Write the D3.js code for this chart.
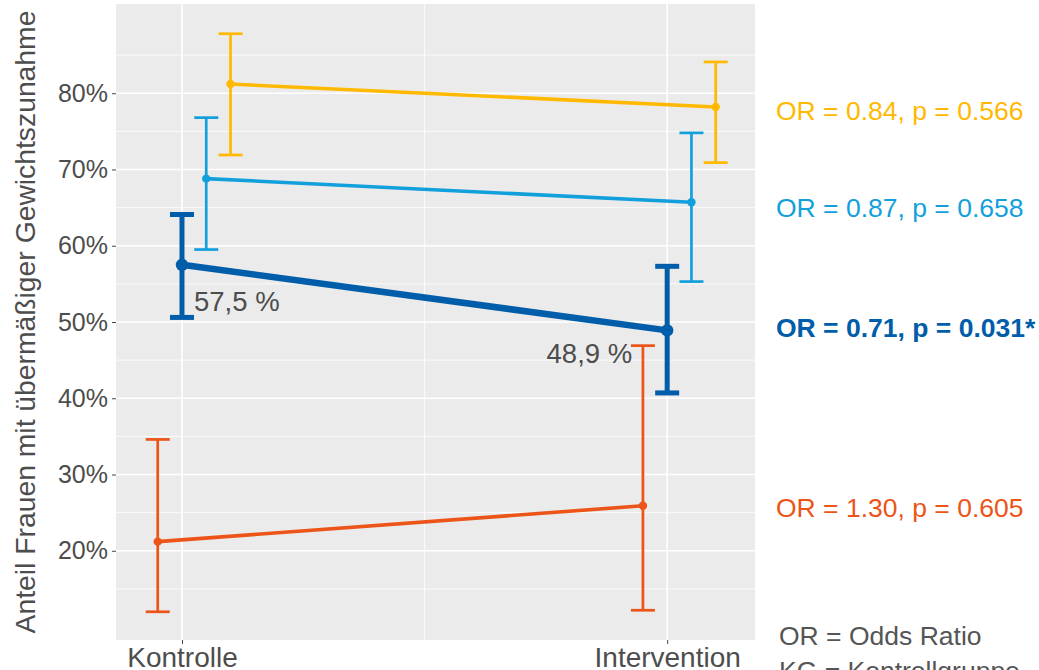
<!DOCTYPE html>
<html>
<head>
<meta charset="utf-8">
<script src="https://cdn.jsdelivr.net/npm/d3@7"></script>
<style>
  html, body { margin: 0; padding: 0; background: #fff; }
  svg { display: block; font-family: "Liberation Sans", Arial, sans-serif; }
</style>
</head>
<body>
<svg id="chart" width="1039" height="670"></svg>
<script>
// Groups on the x axis
const groups = ["Kontrolle", "Intervention"];

// Share of women with excessive weight gain (%) per subgroup, Kontrolle / Intervention
const seriesNames = ["orange", "dunkelblau", "hellblau", "gelb"];
const valuesOrange = [21.2, 25.9];
const valuesDarkBlue = [57.5, 48.9];
const valuesLightBlue = [68.8, 65.7];
const valuesYellow = [81.2, 78.2];

// 95% confidence limits (lower, upper)
const lowerOrange = [12.0, 12.2];
const upperOrange = [34.6, 46.9];
const lowerDarkBlue = [50.6, 40.7];
const upperDarkBlue = [64.1, 57.3];
const lowerLightBlue = [59.5, 55.3];
const upperLightBlue = [76.8, 74.8];
const lowerYellow = [71.9, 70.9];
const upperYellow = [87.8, 84.1];

// Odds-ratio annotations
const orLabels = [
  "OR = 1.30, p = 0.605",
  "OR = 0.71, p = 0.031*",
  "OR = 0.87, p = 0.658",
  "OR = 0.84, p = 0.566"
];

// Y axis ticks
const yTicks = [20, 30, 40, 50, 60, 70, 80];
const yTickLabels = ["20%", "30%", "40%", "50%", "60%", "70%", "80%"];

const yTitle = "Anteil Frauen mit übermäßiger Gewichtszunahme";
const footnotes = ["OR = Odds Ratio", "KG = Kontrollgruppe"];

// ---- series assembly ----
const series = [
  { name: seriesNames[0], values: valuesOrange, lower: lowerOrange, upper: upperOrange, label: orLabels[0] },
  { name: seriesNames[1], values: valuesDarkBlue, lower: lowerDarkBlue, upper: upperDarkBlue, label: orLabels[1] },
  { name: seriesNames[2], values: valuesLightBlue, lower: lowerLightBlue, upper: upperLightBlue, label: orLabels[2] },
  { name: seriesNames[3], values: valuesYellow, lower: lowerYellow, upper: upperYellow, label: orLabels[3] }
];

// ---- styling ----
const style = {
  orange:     { color: "#EC5418", line: 3.6, bar: 2.7, r: 4.2, bold: false, labelY: 517 },
  dunkelblau: { color: "#005DAA", line: 6.5, bar: 5,   r: 6.2, bold: true,  labelY: 337 },
  hellblau:   { color: "#12A0DC", line: 3.6, bar: 2.7, r: 4.2, bold: false, labelY: 217 },
  gelb:       { color: "#FFB900", line: 3.6, bar: 2.7, r: 4.2, bold: false, labelY: 120 }
};
const textGrey = "#4D4D4D";
const panel = { left: 116, right: 755, top: 4, bottom: 640 };
const dodgeStep = 0.05;   // horizontal dodge between subgroups (x units)
const capHalf = 12;       // half-width of the error bar caps (px)

const svg = d3.select("#chart");

const x = d3.scaleLinear().domain([0.864, 2.181]).range([panel.left, panel.right]);
const y = d3.scaleLinear().domain([8.3, 91.7]).range([panel.bottom, panel.top]);

// panel background
svg.append("rect")
  .attr("x", panel.left).attr("y", panel.top)
  .attr("width", panel.right - panel.left).attr("height", panel.bottom - panel.top)
  .attr("fill", "#EBEBEB");

// minor grid
const grid = svg.append("g");
const yMinor = d3.range(15, 90, 10);
grid.selectAll("line.ymin").data(yMinor).enter().append("line")
  .attr("x1", panel.left).attr("x2", panel.right)
  .attr("y1", d => y(d)).attr("y2", d => y(d))
  .attr("stroke", "#fff").attr("stroke-width", 0.8);
grid.selectAll("line.xmin").data([1.5]).enter().append("line")
  .attr("y1", panel.top).attr("y2", panel.bottom)
  .attr("x1", d => x(d)).attr("x2", d => x(d))
  .attr("stroke", "#fff").attr("stroke-width", 0.8);
// major grid
grid.selectAll("line.ymaj").data(yTicks).enter().append("line")
  .attr("x1", panel.left).attr("x2", panel.right)
  .attr("y1", d => y(d)).attr("y2", d => y(d))
  .attr("stroke", "#fff").attr("stroke-width", 1.6);
grid.selectAll("line.xmaj").data([1, 2]).enter().append("line")
  .attr("y1", panel.top).attr("y2", panel.bottom)
  .attr("x1", d => x(d)).attr("x2", d => x(d))
  .attr("stroke", "#fff").attr("stroke-width", 1.6);

// y axis
const yAxis = d3.axisLeft(y).tickValues(yTicks)
  .tickFormat((d, i) => yTickLabels[i]).tickSize(4).tickPadding(4);
const gy = svg.append("g").attr("transform", `translate(${panel.left},0)`).call(yAxis);
gy.select(".domain").remove();
gy.selectAll(".tick line").attr("stroke", "#444").attr("stroke-width", 1);
gy.selectAll(".tick text").attr("fill", textGrey).attr("font-size", 25)
  .attr("font-family", "'Liberation Sans', Arial, sans-serif");

// x axis
const xAxis = d3.axisBottom(x).tickValues([1, 2])
  .tickFormat((d, i) => groups[i]).tickSize(4).tickPadding(3);
const gx = svg.append("g").attr("transform", `translate(0,${panel.bottom})`).call(xAxis);
gx.select(".domain").remove();
gx.selectAll(".tick line").attr("stroke", "#444").attr("stroke-width", 1);
gx.selectAll(".tick text").attr("fill", textGrey).attr("font-size", 28)
  .attr("font-family", "'Liberation Sans', Arial, sans-serif");

// y axis title
svg.append("text")
  .attr("transform", `translate(35,${(panel.top + panel.bottom) / 2}) rotate(-90)`)
  .attr("text-anchor", "middle")
  .attr("fill", textGrey).attr("font-size", 28.3)
  .text(yTitle);

// series: error bars, lines, points
const plot = svg.append("g");
series.forEach((s, si) => {
  const st = style[s.name];
  const off = (si - 1) * dodgeStep;
  const pts = groups.map((g, gi) => ({
    xv: gi + 1 + off, v: s.values[gi], lo: s.lower[gi], hi: s.upper[gi]
  }));
  const g = plot.append("g");
  // error bars
  pts.forEach(p => {
    g.append("line")
      .attr("x1", x(p.xv)).attr("x2", x(p.xv))
      .attr("y1", y(p.lo)).attr("y2", y(p.hi))
      .attr("stroke", st.color).attr("stroke-width", st.bar);
    [p.lo, p.hi].forEach(e => {
      g.append("line")
        .attr("x1", x(p.xv) - capHalf).attr("x2", x(p.xv) + capHalf)
        .attr("y1", y(e)).attr("y2", y(e))
        .attr("stroke", st.color).attr("stroke-width", st.bar);
    });
  });
  // connecting line
  g.append("path")
    .datum(pts)
    .attr("d", d3.line().x(p => x(p.xv)).y(p => y(p.v)))
    .attr("fill", "none").attr("stroke", st.color)
    .attr("stroke-width", st.line).attr("stroke-linecap", "round");
  // points
  g.selectAll("circle").data(pts).enter().append("circle")
    .attr("cx", p => x(p.xv)).attr("cy", p => y(p.v)).attr("r", st.r)
    .attr("fill", st.color);

  // OR annotation on the right
  svg.append("text")
    .attr("x", 776).attr("y", st.labelY)
    .attr("fill", st.color).attr("font-size", 26.5)
    .attr("font-weight", st.bold ? "bold" : "normal")
    .text(s.label);
});

// value labels for the main series
const main = series[1];
const fmt = v => d3.format(".1f")(v).replace(".", ",") + " %";
svg.append("text")
  .attr("x", x(1 + 0) + 12).attr("y", y(main.values[0]) + 46)
  .attr("fill", textGrey).attr("font-size", 27.5)
  .text(fmt(main.values[0]));
svg.append("text")
  .attr("x", x(2 + 0) - 35).attr("y", y(main.values[1]) + 33)
  .attr("text-anchor", "end")
  .attr("fill", textGrey).attr("font-size", 27.5)
  .text(fmt(main.values[1]));

// footnotes
footnotes.forEach((t, i) => {
  svg.append("text")
    .attr("x", 779).attr("y", 645 + i * 35)
    .attr("fill", "#555").attr("font-size", 26.5)
    .text(t);
});
</script>
</body>
</html>
